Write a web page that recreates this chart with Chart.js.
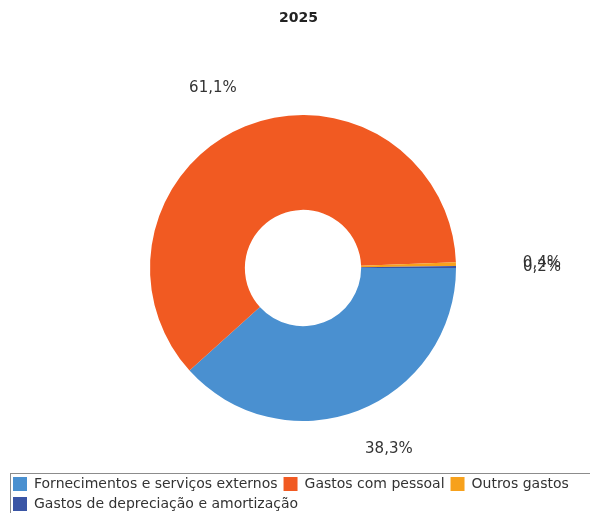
<!DOCTYPE html>
<html>
<head>
<meta charset="utf-8">
<script src="https://cdn.jsdelivr.net/npm/chart.js@4/dist/chart.umd.min.js"></script>
<style>
    html, body { margin: 0; padding: 0; background: #ffffff; }
    #wrap { width: 590px; height: 513px; }
</style>
</head>
<body>
<div id="wrap"><canvas id="gastos-chart"></canvas></div>
<script>
var chartTitle = "2025"
var categories = [
    "Fornecimentos e serviços externos",
    "Gastos com pessoal",
    "Outros gastos",
    "Gastos de depreciação e amortização"
]
var shares = [38.3, 61.1, 0.4, 0.2]
var sliceColors = ["#4a90d0", "#f15a22", "#f7a11c", "#3a55a5"]

// blank legend title, used only as a gap between the doughnut and the legend rows
var legendGap = 50

// nudge the plot area right so the doughnut is not centred on the legend
const plotShift = {
    id: "plotShift",
    afterLayout(chart) {
        chart.chartArea.left += 9
        chart.chartArea.width -= 9
    }
}

// percentage labels sit on an ellipse around the doughnut
const sliceLabels = {
    id: "sliceLabels",
    afterDatasetsDraw(chart) {
        var ctx = chart.ctx
        var meta = chart.getDatasetMeta(0)
        ctx.save()
        ctx.font = '15px "DejaVu Sans"'
        ctx.fillStyle = "#333333"
        ctx.textAlign = "center"
        ctx.textBaseline = "middle"
        meta.data.forEach(function (arc, i) {
            var mid = (arc.startAngle + arc.endAngle) / 2
            var x = arc.x + Math.cos(mid) * (arc.outerRadius + 86)
            var y = arc.y + Math.sin(mid) * (arc.outerRadius + 41)
            var text = shares[i].toFixed(1).replace(".", ",") + "%"
            ctx.fillText(text, x, y)
        })
        ctx.restore()
    }
}

// grey frame around the legend
const legendFrame = {
    id: "legendFrame",
    afterDraw(chart) {
        var lg = chart.legend
        var ctx = chart.ctx
        ctx.save()
        ctx.strokeStyle = "#8c8c8c"
        ctx.lineWidth = 1
        ctx.strokeRect(lg.left + 3.5, lg.top + legendGap + 2.5, lg.width + 20, lg.height)
        ctx.restore()
    }
}

const gastosData = {
    labels: categories,
    datasets: [
        {
            data: shares,
            backgroundColor: sliceColors,
            borderWidth: 0
        }
    ]
}

const gastosConfig = {
    type: "doughnut",
    data: gastosData,
    options: {
        responsive: true,
        maintainAspectRatio: false,
        animation: false,
        rotation: 90,
        cutout: "38%",
        layout: {
            padding: { left: 7, right: 0, top: 0, bottom: -8 }
        },
        plugins: {
            title: {
                display: true,
                text: chartTitle,
                color: "#222222",
                padding: { top: 10, bottom: 88.2 },
                font: { family: "DejaVu Sans", size: 14, weight: "bold" }
            },
            legend: {
                display: true,
                position: "bottom",
                align: "start",
                title: {
                    display: true,
                    text: "",
                    padding: { top: 17.2, bottom: 17.2 },
                    font: { size: 13 }
                },
                labels: {
                    color: "#333333",
                    boxWidth: 14,
                    boxHeight: 14,
                    padding: 6,
                    font: { family: "DejaVu Sans", size: 14 }
                }
            },
            tooltip: { enabled: false }
        }
    },
    plugins: [plotShift, sliceLabels, legendFrame]
}

var gastosChart = new Chart(
    document.getElementById("gastos-chart"),
    gastosConfig
)
</script>
</body>
</html>
